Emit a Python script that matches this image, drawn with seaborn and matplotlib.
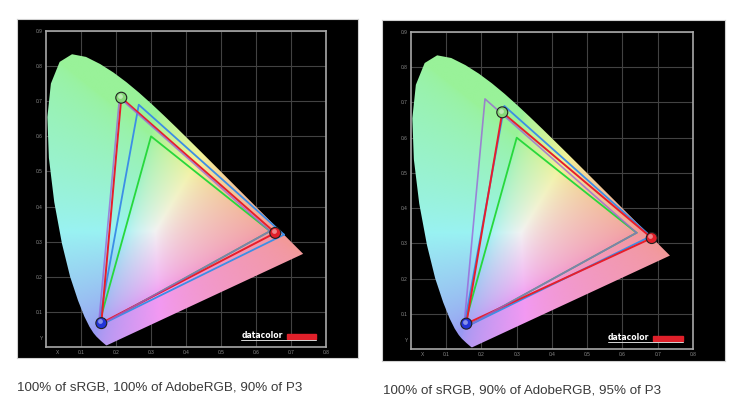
import numpy as np
import pandas as pd
import matplotlib
matplotlib.use("Agg")
import matplotlib.pyplot as plt
from matplotlib.patches import Polygon, Rectangle
import seaborn as sns

# CIE 1931 spectral locus, 380-700 nm
locus_x = [0.1741, 0.1733, 0.1714, 0.1644, 0.1566, 0.1440, 0.1355, 0.1241, 0.1096,
           0.0913, 0.0687, 0.0454, 0.0235, 0.0082, 0.0039, 0.0139, 0.0389, 0.0743,
           0.1142, 0.1547, 0.1929, 0.2296, 0.2658, 0.3016, 0.3373, 0.3731, 0.4087,
           0.4441, 0.4788, 0.5125, 0.5448, 0.5752, 0.6029, 0.6270, 0.6658, 0.6915,
           0.7079, 0.7190, 0.7260, 0.7347]
locus_y = [0.0050, 0.0048, 0.0051, 0.0109, 0.0177, 0.0297, 0.0399, 0.0578, 0.0868,
           0.1327, 0.2007, 0.2950, 0.4127, 0.5384, 0.6548, 0.7502, 0.8120, 0.8338,
           0.8262, 0.8059, 0.7816, 0.7543, 0.7243, 0.6923, 0.6589, 0.6245, 0.5896,
           0.5547, 0.5202, 0.4866, 0.4544, 0.4242, 0.3965, 0.3725, 0.3340, 0.3083,
           0.2920, 0.2809, 0.2740, 0.2653]

# reference gamuts (R, G, B)
srgb_x = [0.64, 0.30, 0.15]
srgb_y = [0.33, 0.60, 0.06]
p3_x = [0.68, 0.265, 0.15]
p3_y = [0.32, 0.69, 0.06]
adobe_x = [0.64, 0.21, 0.15]
adobe_y = [0.33, 0.71, 0.06]

# measured primaries (R, G, B)
left_x = [0.655, 0.215, 0.158]
left_y = [0.325, 0.710, 0.068]
right_x = [0.683, 0.259, 0.157]
right_y = [0.315, 0.672, 0.072]

captions = ["100% of sRGB, 100% of AdobeRGB, 90% of P3",
            "100% of sRGB, 90% of AdobeRGB, 95% of P3"]
x_ticks = [0.1, 0.2, 0.3, 0.4, 0.5, 0.6, 0.7, 0.8]
y_ticks = [0.1, 0.2, 0.3, 0.4, 0.5, 0.6, 0.7, 0.8, 0.9]

sns.set_theme(style="white")
plt.rcParams["font.family"] = ["Liberation Sans", "DejaVu Sans"]


def chroma_rgb(n=450):
    xs = np.linspace(0, 0.8, n)
    ys = np.linspace(0.002, 0.9, n)
    X, Y = np.meshgrid(xs, ys)
    xyz = np.stack([X / Y, np.ones_like(X), (1 - X - Y) / Y], -1)
    M = np.array([[3.2406, -1.5372, -0.4986],
                  [-0.9689, 1.8758, 0.0415],
                  [0.0557, -0.2040, 1.0570]])
    rgb = np.clip(xyz @ M.T, 0, None)
    rgb = rgb / rgb.max(axis=-1, keepdims=True)
    rgb = rgb ** (1 / 1.8)
    return np.clip(0.6 + 0.35 * rgb, 0, 1)


def tri(ax, xs, ys, color, lw=1.3, alpha=1.0):
    df = pd.DataFrame({"x": xs + xs[:1], "y": ys + ys[:1]})
    sns.lineplot(data=df, x="x", y="y", sort=False, estimator=None,
                 color=color, lw=lw, alpha=alpha, ax=ax, zorder=3)


def panel(fig, box, frame, meas_x, meas_y, caption, cap_pos):
    bg = fig.add_axes(box, zorder=0)
    bg.set_facecolor("black")
    bg.set_xticks([]); bg.set_yticks([])
    for s in bg.spines.values():
        s.set_color("#d0d0d0"); s.set_linewidth(0.8)

    ax = fig.add_axes(frame, zorder=1)
    ax.set_facecolor("black")
    ax.set_xlim(0, 0.8); ax.set_ylim(0, 0.9)
    ax.set_axisbelow(True)
    ax.grid(True, color="#424242", lw=0.8)
    for s in ax.spines.values():
        s.set_color("#a8a8a8"); s.set_linewidth(1.2)
    ax.set_xticks(x_ticks)
    ax.set_xticklabels([f"{v:.1f}" for v in x_ticks])
    ax.set_yticks(y_ticks)
    ax.set_yticklabels([f"{v:.1f}" for v in y_ticks])
    ax.tick_params(length=0, labelsize=3.5, labelcolor="#8c8c8c", pad=2.5)
    ax.text(0.034, -0.016, "X", fontsize=3.5, color="#8c8c8c",
            ha="center", va="center", clip_on=False)
    ax.text(-0.013, 0.025, "Y", fontsize=3.5, color="#8c8c8c",
            ha="center", va="center", clip_on=False)

    im = ax.imshow(chroma_rgb(), origin="lower", extent=[0, 0.8, 0.002, 0.9],
                   aspect="auto", interpolation="bilinear", zorder=1)
    shape = Polygon(np.column_stack([locus_x, locus_y]), closed=True,
                    transform=ax.transData)
    im.set_clip_path(shape)

    tri(ax, srgb_x, srgb_y, "#28d83c")
    tri(ax, p3_x, p3_y, "#3c8ee6")
    tri(ax, meas_x, meas_y, "#e81e2a", lw=1.4)
    tri(ax, adobe_x, adobe_y, "#9a5fd8", lw=1.2, alpha=0.75)

    balls = pd.DataFrame({"x": meas_x, "y": meas_y, "c": ["R", "G", "B"]})
    sns.scatterplot(data=balls, x="x", y="y", hue="c",
                    palette={"R": "#e0202a", "G": "#86d878", "B": "#2234d8"},
                    s=62, edgecolor="#202020", linewidth=0.8, legend=False,
                    ax=ax, zorder=5)
    ax.scatter([v - 0.004 for v in meas_x], [v + 0.005 for v in meas_y],
               s=12, color="white", alpha=0.45, lw=0, zorder=6)
    ax.set_xlabel(""); ax.set_ylabel("")

    ax.text(0.558, 0.033, "datacolor", color="white", fontsize=5.5,
            fontweight="bold", ha="left", va="center", zorder=6,
            family="DejaVu Sans")
    ax.add_patch(Rectangle((0.688, 0.024), 0.084, 0.012, color="#e0202a",
                           zorder=6))
    ax.plot([0.558, 0.772], [0.019, 0.019], color="#d8d8d8", lw=0.7, zorder=6)

    fig.text(cap_pos[0], cap_pos[1], caption, fontsize=9.6, color="#3a3a3a",
             ha="left", va="center")


fig = plt.figure(figsize=(7.46, 4.2), dpi=100)
fig.patch.set_facecolor("white")

panel(fig, [0.0228, 0.1476, 0.4571, 0.8071], [0.0617, 0.1738, 0.3753, 0.7524],
      left_x, left_y, captions[0], (0.0228, 0.0762))
panel(fig, [0.5121, 0.1405, 0.4598, 0.8119], [0.5509, 0.1690, 0.3780, 0.7548],
      right_x, right_y, captions[1], (0.5134, 0.0714))

fig.savefig("out.png", dpi=100, facecolor="white")
